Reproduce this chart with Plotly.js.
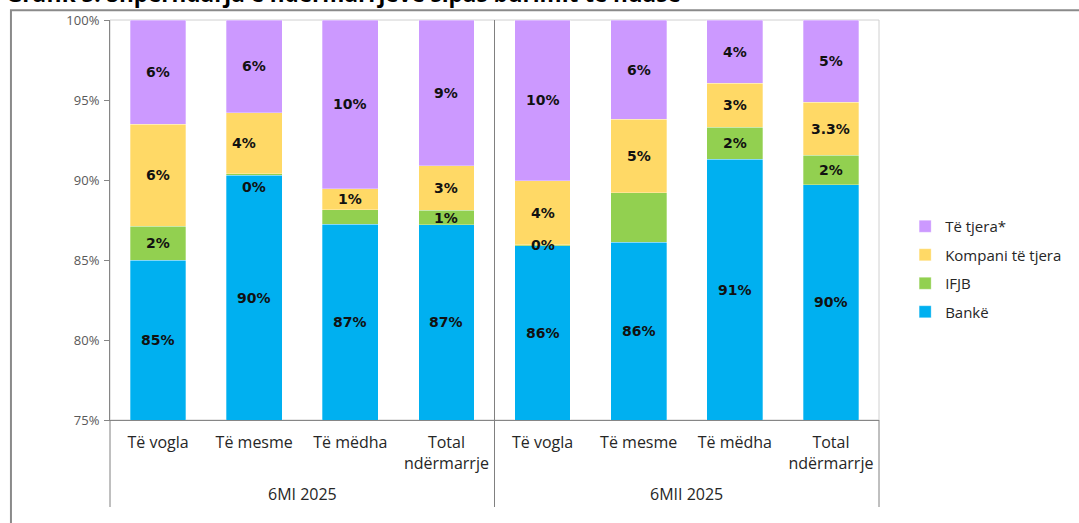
<!DOCTYPE html>
<html>
<head>
<meta charset="utf-8">
<script src="https://cdn.plot.ly/plotly-3.0.1.min.js"></script>
<style>
html,body{margin:0;padding:0;background:#fff;}
#chart{width:1079px;height:523px;}
</style>
</head>
<body>
<div id="chart"></div>
<script>
// ---- data ----
const categories = ["Të vogla","Të mesme","Të mëdha","Total<br>ndërmarrje","Të vogla","Të mesme","Të mëdha","Total<br>ndërmarrje"];
const groups = ["6MI 2025","6MII 2025"];
const seriesNames = ["Bankë","IFJB","Kompani të tjera","Të tjera*"];
const bankeVals   = [85.0, 90.3, 87.25, 87.2, 85.9, 86.1, 91.3, 89.7];
const ifjbVals    = [2.1, 0.1, 0.9, 0.9, 0.05, 3.1, 2.0, 1.85];
const kompaniVals = [6.4, 3.8, 1.3, 2.8, 4.0, 4.6, 2.75, 3.3];
const tjeraVals   = [6.5, 5.8, 10.55, 9.1, 10.05, 6.2, 3.95, 5.15];
const bankeLbl   = ["85%","90%","87%","87%","86%","86%","91%","90%"];
const ifjbLbl    = ["2%","0%","","1%","0%","","2%","2%"];
const kompaniLbl = ["6%","4%","1%","3%","4%","5%","3%","3.3%"];
const tjeraLbl   = ["6%","6%","10%","9%","10%","6%","4%","5%"];
const yTicks = [75,80,85,90,95,100];

// ---- build ----
const colors = ["#00B0F0","#92D050","#FFD966","#CC99FF"];
const allVals = [bankeVals, ifjbVals, kompaniVals, tjeraVals];
const allLbls = [bankeLbl, ifjbLbl, kompaniLbl, tjeraLbl];
const xIdx = categories.map((c,i)=>i);
const yMin = 75, yMax = 100;

const traces = allVals.map((vals,s)=>({
  type:'bar', name:seriesNames[s], x:xIdx, y:vals,
  marker:{color:colors[s], line:{color:'rgba(255,255,255,0.6)', width:0.5}},
  legendgroup:'g'+s, legendrank:10-s, hoverinfo:'skip'
}));

const annotations = [];
const cum = xIdx.map(()=>0);
allVals.forEach((vals,s)=>{
  vals.forEach((v,i)=>{
    const lo = Math.max(cum[i], yMin);
    const hi = cum[i]+v;
    const mid = (lo+hi)/2;
    cum[i] = hi;
    const t = allLbls[s][i];
    if(!t) return;
    let yshift = 0, xshift = 0;
    if(s===1 && v<0.5 && i===1) yshift = -13;
    if(s===2 && i===1) xshift = -10;
    annotations.push({x:i, y:mid, xref:'x', yref:'y', text:t, showarrow:false,
      xshift:xshift, yshift:yshift,
      font:{family:'DejaVu Sans', size:14, color:'#111', weight:'bold'}});
  });
});
// group labels
groups.forEach((g,k)=>{
  annotations.push({x:(k*4+1.5), y:-0.185, xref:'x', yref:'paper', text:g, showarrow:false,
    font:{family:'Open Sans', size:16, color:'#262626'}, yanchor:'middle'});
});
// title (cut at top of image, as in the reference)
annotations.push({x:-0.138, y:1.0, xref:'paper', yref:'paper', xanchor:'left', yanchor:'bottom',
  yshift:9, text:'Grafik 5. Shpërndarja e ndërmarrjeve sipas burimit të huasë', showarrow:false,
  font:{family:'Open Sans', size:22.5, color:'#000', weight:'bold'}});

const shapes = [
  {type:'rect', xref:'x domain', yref:'y domain', x0:0, x1:1, y0:0, y1:1, line:{color:'#d0d0d0', width:1}, layer:'below'},
  {type:'line', xref:'x domain', yref:'paper', x0:0, x1:0, y0:-0.2175, y1:0, line:{color:'#808080', width:1}},
  {type:'line', xref:'x domain', yref:'paper', x0:0.5, x1:0.5, y0:-0.2175, y1:1, line:{color:'#808080', width:1}},
  {type:'line', xref:'x domain', yref:'paper', x0:1, x1:1, y0:-0.2175, y1:0, line:{color:'#808080', width:1}},
  {type:'path', xref:'paper', yref:'paper', path:'M -0.1288,-0.26 L -0.1288,1.0245 L 1.3,1.0245', line:{color:'#8a8a8a', width:2}}
];

const layout = {
  width:1079, height:523,
  margin:{l:110, r:181, t:20, b:103},
  paper_bgcolor:'#fff', plot_bgcolor:'#fff',
  barmode:'stack', bargap:0.42,
  showlegend:true,
  legend:{x:1.034, y:0.3775, xanchor:'left', yanchor:'middle', traceorder:'grouped', tracegroupgap:6,
    font:{family:'Open Sans', size:15, color:'#262626'}, itemwidth:30},
  xaxis:{range:[-0.5,7.5], tickvals:xIdx, ticktext:categories, ticks:'', showline:true, linecolor:'#868686', linewidth:1,
    showgrid:false, zeroline:false, tickfont:{family:'Open Sans', size:16, color:'#262626'}, ticklabelstandoff:8, fixedrange:true},
  yaxis:{range:[yMin,yMax], tickvals:yTicks, ticktext:yTicks.map(v=>v+'%'), ticks:'outside', ticklen:5, tickcolor:'#868686',
    showline:true, linecolor:'#868686', linewidth:1, showgrid:false, zeroline:false,
    tickfont:{family:'Open Sans', size:13, color:'#595959'}, ticklabelstandoff:2, fixedrange:true},
  annotations:annotations, shapes:shapes
};
Plotly.newPlot('chart', traces, layout, {displayModeBar:false, staticPlot:true});
</script>
</body>
</html>
